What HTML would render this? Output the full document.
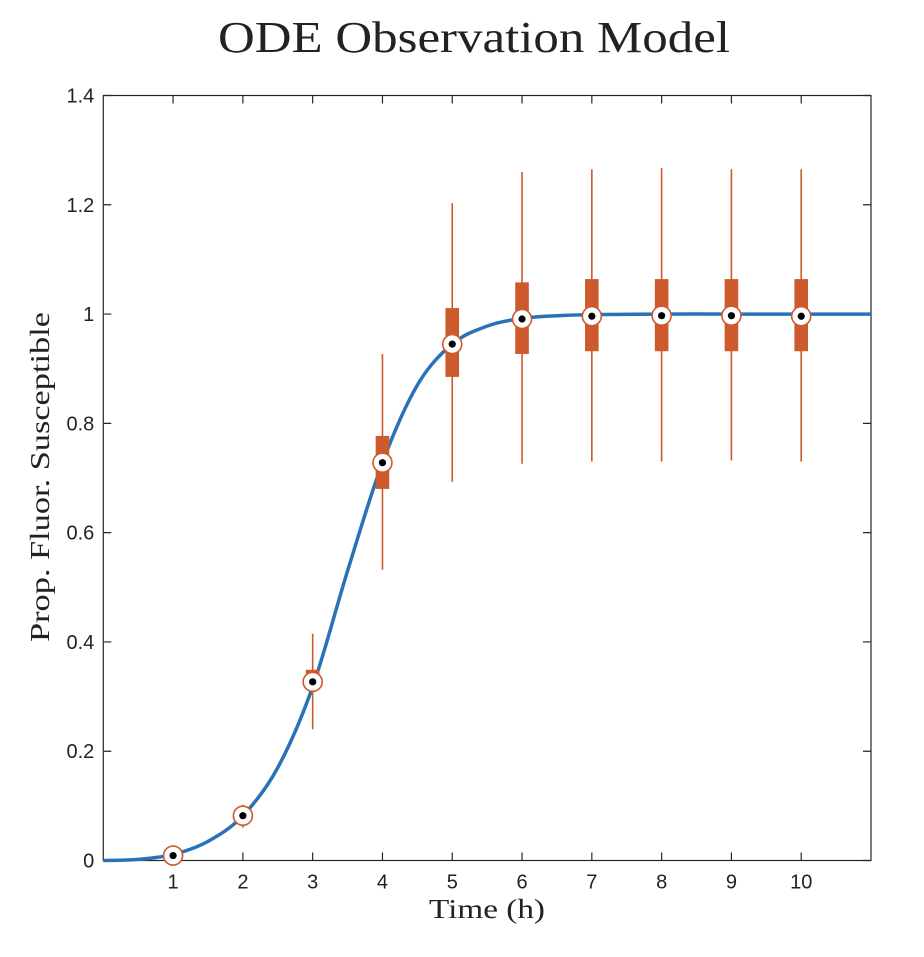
<!DOCTYPE html>
<html><head><meta charset="utf-8"><style>
body{margin:0;background:#fff;}
svg text{fill:#222;}
</style></head><body>
<svg width="924" height="952" xmlns="http://www.w3.org/2000/svg">
<text x="474" y="52" text-anchor="middle" font-family="Liberation Serif, serif" font-size="44" textLength="512" lengthAdjust="spacingAndGlyphs">ODE Observation Model</text>
<text x="487" y="918" text-anchor="middle" font-family="Liberation Serif, serif" font-size="27" textLength="116" lengthAdjust="spacingAndGlyphs">Time (h)</text>
<text transform="translate(49,477) rotate(-90)" text-anchor="middle" font-family="Liberation Serif, serif" font-size="27" textLength="330" lengthAdjust="spacingAndGlyphs">Prop. Fluor. Susceptible</text>
<g id="axes"></g>
<g id="marks"></g>
</svg>
<script>
const times=[1,2,3,4,5,6,7,8,9,10];
const medians=[0.009,0.082,0.327,0.728,0.945,0.991,0.996,0.997,0.997,0.996];
const q1=[0.004,0.075,0.314,0.680,0.885,0.927,0.932,0.932,0.932,0.932];
const q3=[0.014,0.090,0.349,0.777,1.011,1.058,1.064,1.064,1.064,1.064];
const wLow=[0.003,0.060,0.240,0.532,0.693,0.726,0.730,0.730,0.732,0.730];
const wHigh=[0.016,0.102,0.415,0.927,1.203,1.260,1.265,1.267,1.265,1.265];
const curveT=[0,0.5,1,1.5,2,2.5,3,3.5,4,4.5,5,5.5,6,6.5,7,8,9,10,11];
const curveY=[0,0.002,0.011,0.035,0.082,0.17,0.318,0.53,0.728,0.87,0.945,0.978,0.992,0.997,0.999,1,1,1,1];
const xTicks=[1,2,3,4,5,6,7,8,9,10];
const yTicks=[0,0.2,0.4,0.6,0.8,1,1.2,1.4];
const yTickLabels=["0","0.2","0.4","0.6","0.8","1","1.2","1.4"];
const X0=103.3,X1=871,Y0=860.5,Y1=95.5;
const xs=v=>X0+(v-0)/(11-0)*(X1-X0);
const ys=v=>Y0-(v-0)/(1.4-0)*(Y0-Y1);
const NS="http://www.w3.org/2000/svg";
function mk(tag,attrs,parent){const e=document.createElementNS(NS,tag);for(const k in attrs)e.setAttribute(k,attrs[k]);parent.appendChild(e);return e;}
const ax=document.getElementById('axes'),mg=document.getElementById('marks');
let frame=mk('rect',{x:X0,y:Y1,width:X1-X0,height:Y0-Y1,fill:'none',stroke:'#262626','stroke-width':1.2},ax);


xTicks.forEach(t=>{
 const x=xs(t);
 let l=mk('path',{d:`M${x},${Y0}v-8M${x},${Y1}v8`,stroke:'#262626','stroke-width':1.2},ax);
 
 
 let tx=mk('text',{x:x,y:Y0+28,'text-anchor':'middle','font-family':'Liberation Sans, sans-serif','font-size':20},ax);
 tx.textContent=t;
 
 
});
yTicks.forEach((t,i)=>{
 const y=ys(t);
 let l=mk('path',{d:`M${X0},${y}h8M${X1},${y}h-8`,stroke:'#262626','stroke-width':1.2},ax);
 
 
 let tx=mk('text',{x:X0-9,y:y+7,'text-anchor':'end','font-family':'Liberation Sans, sans-serif','font-size':20},ax);
 tx.textContent=yTickLabels[i];
 
 
});
const pts=curveT.map((t,i)=>[xs(t),ys(curveY[i])]);
let d=`M${pts[0][0]},${pts[0][1]}`;
for(let i=0;i<pts.length-1;i++){
 const p0=pts[Math.max(0,i-1)],p1=pts[i],p2=pts[i+1],p3=pts[Math.min(pts.length-1,i+2)];
 const c1=[p1[0]+(p2[0]-p0[0])/6,p1[1]+(p2[1]-p0[1])/6];
 const c2=[p2[0]-(p3[0]-p1[0])/6,p2[1]-(p3[1]-p1[1])/6];
 d+=`C${c1[0]},${c1[1]} ${c2[0]},${c2[1]} ${p2[0]},${p2[1]}`;
}
let cv=mk('path',{d:d,fill:'none',stroke:'#2a72b8','stroke-width':3.5},mg);


const OR='#cc5a2d';
times.forEach((t,i)=>{
 const x=xs(t);
 let w=mk('line',{x1:x,x2:x,y1:ys(wLow[i]),y2:ys(wHigh[i]),stroke:OR,'stroke-width':1.6},mg);
 
 
 let b=mk('rect',{x:x-6.8,y:ys(q3[i]),width:13.6,height:ys(q1[i])-ys(q3[i]),fill:OR},mg);
 
 
});
times.forEach((t,i)=>{
 const x=xs(t),y=ys(medians[i]);
 let c=mk('circle',{cx:x,cy:y,r:9.5,fill:'#fff',stroke:OR,'stroke-width':1.6},mg);
 
 
 let dd=mk('circle',{cx:x,cy:y,r:3.6,fill:'#000'},mg);
 
 
});
</script>
</body></html>
